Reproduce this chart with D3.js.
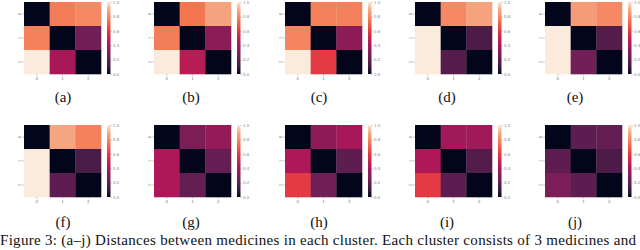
<!DOCTYPE html>
<html><head><meta charset="utf-8">
<script src="https://cdn.jsdelivr.net/npm/d3@7"></script>
<style>body{margin:0;background:#fff}svg{display:block}</style>
</head><body>
<svg id="c" width="640" height="250"></svg>
<script>
const panelLabels = ["(a)","(b)","(c)","(d)","(e)","(f)","(g)","(h)","(i)","(j)"];
const rowIdx = ["0","1","2"];
const colIdx = ["0","1","2"];
// 3x3 distance matrices (row-major), normalized to each colorbar's range
const mA = [0,0.77,0.80, 0.78,0,0.25, 1.0,0.40,0];
const mB = [0,0.75,0.87, 0.77,0,0.32, 1.0,0.45,0];
const mC = [0,0.78,0.78, 0.79,0,0.33, 1.0,0.60,0];
const mD = [0,0.80,0.87, 1.0,0,0.15, 1.0,0.17,0];
const mE = [0,0.85,0.80, 1.0,0,0.17, 1.0,0.25,0];
const mF = [0,0.88,0.78, 1.0,0,0.14, 1.0,0.20,0];
const mG = [0,0.28,0.35, 0.42,0,0.22, 0.42,0.22,0];
const mH = [0,0.33,0.40, 0.42,0,0.20, 0.60,0.25,0];
const mI = [0,0.38,0.38, 0.42,0,0.17, 0.60,0.20,0];
const mJ = [0,0.20,0.22, 0.20,0,0.15, 0.28,0.20,0];
const matrices = [mA,mB,mC,mD,mE,mF,mG,mH,mI,mJ];
const cbarTicks = [0.0,0.2,0.4,0.6,0.8,1.0];
const captionText = "Figure 3: (a–j) Distances between medicines in each cluster. Each cluster consists of 3 medicines and";

// rocket colormap stops
const rocketStops = ["#03051a","#35193e","#701f57","#ad1759","#e13342","#f37651","#f6b48f","#faebdd"];
const rocketPos = [0,1/12,3/12,5/12,7/12,9/12,11/12,1];
const rocket = d3.scaleLinear().domain(rocketPos).range(rocketStops).interpolate(d3.interpolateRgb).clamp(true);

const svg = d3.select("#c");
const hmLeft = [24,154,285,415,545];
const rowTop = [2,125];
const hmW = 77, hmH = 72;

matrices.forEach((m,i)=>{
  const r = Math.floor(i/5), c = i%5;
  const x0 = hmLeft[c], y0 = rowTop[r];
  const g = svg.append("g").attr("transform",`translate(${x0},${y0})`);
  const xs = d3.scaleBand().domain(colIdx).range([0,hmW]);
  const ys = d3.scaleBand().domain(rowIdx).range([0,hmH]);
  const cells = [];
  rowIdx.forEach((ri,a)=>colIdx.forEach((ci,b)=>cells.push({r:ri,c:ci,v:m[a*3+b]})));
  g.selectAll("rect.cell").data(cells).enter().append("rect")
    .attr("x",d=>xs(d.c)).attr("y",d=>ys(d.r))
    .attr("width",xs.bandwidth()+0.3).attr("height",ys.bandwidth()+0.3)
    .attr("fill",d=>rocket(d.v));
  const xa = g.append("g").attr("transform",`translate(0,${hmH})`)
    .call(d3.axisBottom(xs).tickSize(2).tickPadding(1));
  const ya = g.append("g").call(d3.axisLeft(ys).tickSize(2).tickPadding(1));
  [xa,ya].forEach(ax=>{
    ax.select(".domain").remove();
    ax.selectAll("line").attr("stroke","#999").attr("stroke-width",0.5);
    ax.selectAll("text").attr("font-size",4).attr("fill","#777").attr("font-family","DejaVu Sans");
  });
  ya.selectAll("text").attr("transform","rotate(-90)").attr("x",0).attr("y",-4).attr("dy","0.35em").attr("text-anchor","middle");
  const cbX = hmW + 6, cbW = 3.5;
  const defs = svg.append("defs");
  const gid = "grad"+i;
  const grad = defs.append("linearGradient").attr("id",gid).attr("x1",0).attr("y1",1).attr("x2",0).attr("y2",0);
  d3.range(0,1.001,0.05).forEach(t=>grad.append("stop").attr("offset",t).attr("stop-color",rocket(t)));
  g.append("rect").attr("x",cbX).attr("y",0).attr("width",cbW).attr("height",hmH).attr("fill",`url(#${gid})`);
  const cs = d3.scaleLinear().domain([0,1]).range([hmH,0]);
  const ca = g.append("g").attr("transform",`translate(${cbX+cbW},0)`)
    .call(d3.axisRight(cs).tickValues(cbarTicks).tickSize(1.5).tickPadding(1).tickFormat(d3.format(".1f")));
  ca.select(".domain").remove();
  ca.selectAll("line").attr("stroke","#999").attr("stroke-width",0.5);
  ca.selectAll("text").attr("font-size",4).attr("fill","#888").attr("font-family","DejaVu Sans");
  svg.append("text").attr("x",63+128*c).attr("y",r===0?102:227)
    .attr("text-anchor","middle").attr("font-family","Liberation Serif").attr("font-size",15)
    .attr("fill","#111").text(panelLabels[i]);
});

svg.append("text").attr("x",0).attr("y",245).attr("font-family","Liberation Serif")
  .attr("font-size",15).attr("textLength",636).attr("lengthAdjust","spacing")
  .attr("fill","#111").text(captionText);
</script>
</body></html>
